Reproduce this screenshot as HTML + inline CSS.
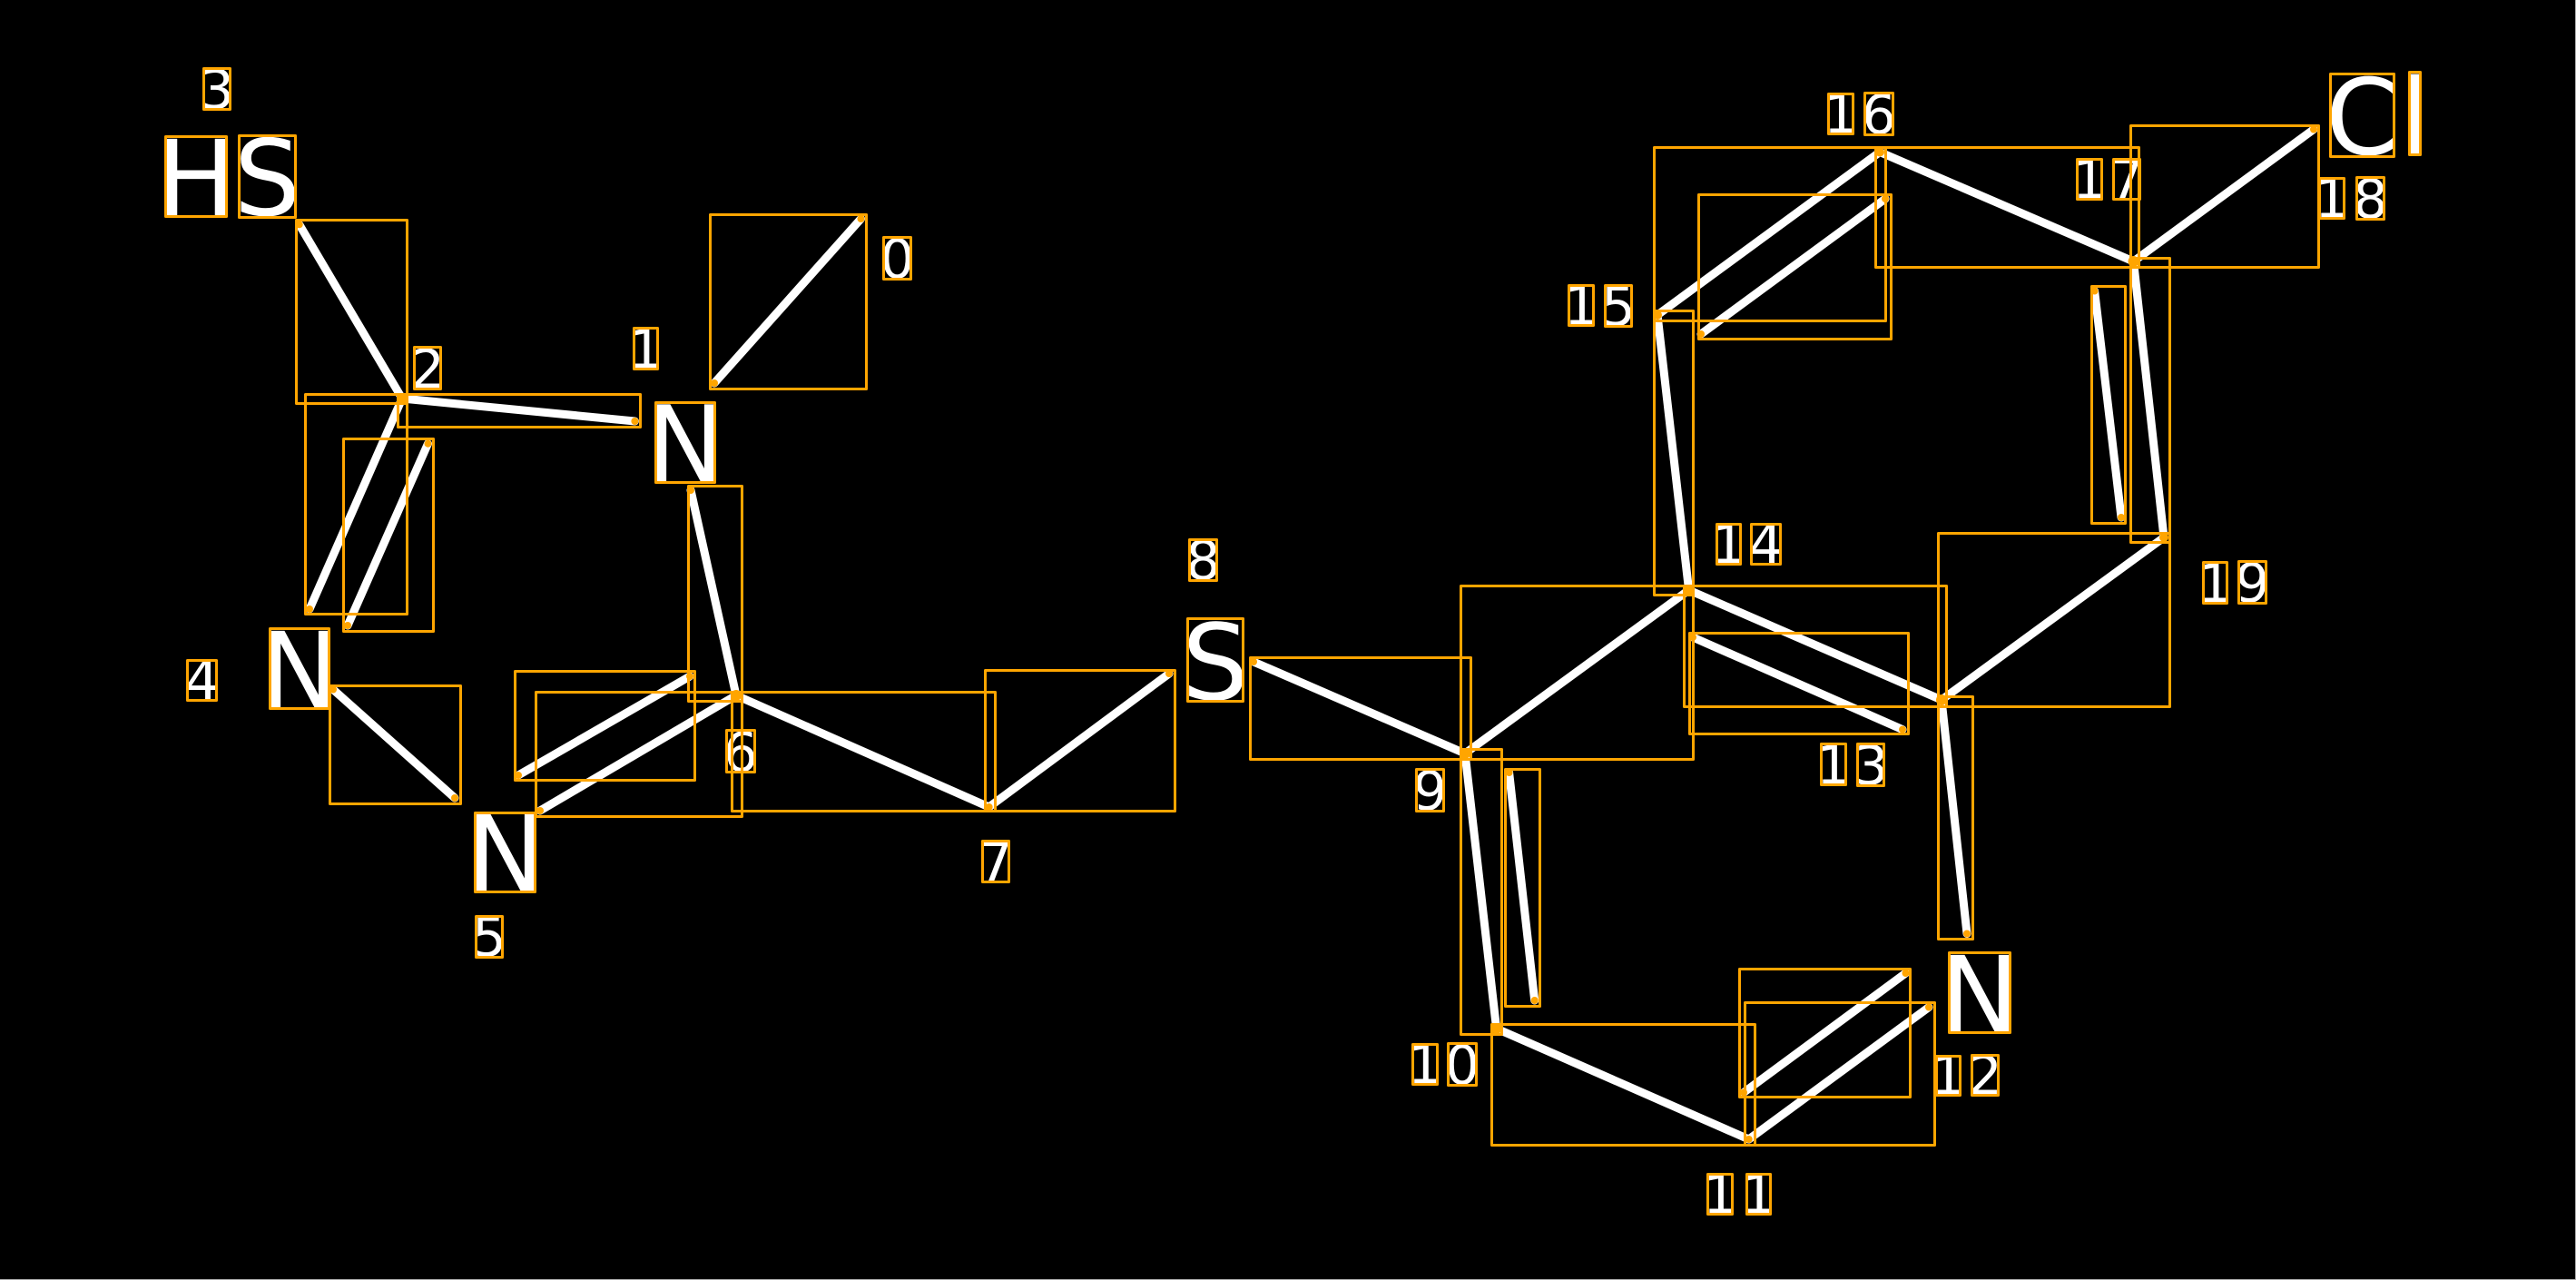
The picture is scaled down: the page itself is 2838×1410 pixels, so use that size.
<!DOCTYPE html>
<html>
<head>
<meta charset="utf-8">
<title>Molecule diagram</title>
<style>
html,body{margin:0;padding:0;background:#000;}
body{width:2838px;height:1410px;overflow:hidden;}
svg{display:block;}
text{font-family:"DejaVu Sans",sans-serif;fill:#fff;text-anchor:middle;}
.b{font-size:116px;}
.s{font-size:60px;}
</style>
</head>
<body>
<svg xmlns="http://www.w3.org/2000/svg" width="2838" height="1410" viewBox="0 0 2838 1410">
<rect width="2838" height="1410" fill="#000"/>
<rect x="0" y="1409" width="2838" height="1" fill="#aaa"/>
<rect x="2837" y="0" width="1" height="1410" fill="#aaa"/>

<g stroke="#fff" stroke-width="9" stroke-linecap="round" fill="none">
<line x1="787" y1="422" x2="948.5" y2="241"/>
<line x1="443" y1="439" x2="699.4" y2="464"/>
<line x1="329.7" y1="247.3" x2="443" y2="439"/>
<line x1="443" y1="439" x2="341" y2="671"/>
<line x1="471.5" y1="488.7" x2="383" y2="689"/>
<line x1="367" y1="759.5" x2="501" y2="879"/>
<line x1="595" y1="893" x2="811" y2="766"/>
<line x1="571" y1="854" x2="760" y2="745"/>
<line x1="761" y1="540" x2="811" y2="766"/>
<line x1="811" y1="766" x2="1089.6" y2="889"/>
<line x1="1089.6" y1="889" x2="1288" y2="742"/>
<line x1="1381" y1="729" x2="1614" y2="830"/>
<line x1="1614" y1="830" x2="1648.6" y2="1133"/>
<line x1="1662.6" y1="851" x2="1690.7" y2="1102"/>
<line x1="1648.6" y1="1133" x2="1926.7" y2="1255"/>
<line x1="1926.7" y1="1255" x2="2125" y2="1109.5"/>
<line x1="1921" y1="1203.5" x2="2099.5" y2="1072"/>
<line x1="2139" y1="771" x2="2167" y2="1028.5"/>
<line x1="1860.6" y1="650" x2="2139" y2="771"/>
<line x1="1865" y1="702" x2="2096" y2="803.6"/>
<line x1="1614" y1="830" x2="1860.6" y2="650"/>
<line x1="1860.6" y1="650" x2="1826" y2="347"/>
<line x1="1826" y1="347" x2="2071" y2="167.5"/>
<line x1="1874" y1="368" x2="2077" y2="219"/>
<line x1="2071" y1="167.5" x2="2350.5" y2="288"/>
<line x1="2350.5" y1="288" x2="2549" y2="142.5"/>
<line x1="2350.5" y1="288" x2="2384" y2="592"/>
<line x1="2307.6" y1="320.5" x2="2337" y2="570"/>
<line x1="2384" y1="592" x2="2139" y2="771"/>
</g>

<text class="b" x="216" y="237.5">H</text>
<text class="b" x="294.5" y="237">S</text>
<text class="b" x="755" y="530">N</text>
<text class="b" x="330" y="779.5">N</text>
<text class="b" x="557" y="981.5">N</text>
<text class="b" x="1339" y="770.5">S</text>
<text class="b" x="2181" y="1136.5">N</text>
<text class="b" x="2602.5" y="170">C</text>
<text class="b" x="2660.7" y="169.5">l</text>

<text class="s" x="988.5" y="306">0</text>
<text class="s" x="711.5" y="405.5">1</text>
<text class="s" x="471" y="427.5">2</text>
<text class="s" x="239" y="119.5">3</text>
<text class="s" x="222.5" y="770.5">4</text>
<text class="s" x="539" y="1053">5</text>
<text class="s" x="816" y="849.5">6</text>
<text class="s" x="1097" y="970.5">7</text>
<text class="s" x="1325.5" y="638">8</text>
<text class="s" x="1575.5" y="892">9</text>
<text class="s" x="1569.8" y="1193.5">1</text>
<text class="s" x="1611" y="1194">0</text>
<text class="s" x="1895" y="1336.5">1</text>
<text class="s" x="1937.5" y="1336.5">1</text>
<text class="s" x="2146.2" y="1205.5">1</text>
<text class="s" x="2186.8" y="1205.5">2</text>
<text class="s" x="2020" y="863.5">1</text>
<text class="s" x="2061.3" y="864">3</text>
<text class="s" x="1904.5" y="620.5">1</text>
<text class="s" x="1945.5" y="620.5">4</text>
<text class="s" x="1742" y="357.5">1</text>
<text class="s" x="1783" y="358.5">5</text>
<text class="s" x="2028" y="146.5">1</text>
<text class="s" x="2070" y="147">6</text>
<text class="s" x="2302" y="218.5">1</text>
<text class="s" x="2343" y="218.5">7</text>
<text class="s" x="2569" y="239.5">1</text>
<text class="s" x="2611.5" y="240">8</text>
<text class="s" x="2440.5" y="663.5">1</text>
<text class="s" x="2481.5" y="663">9</text>

<g stroke="#ffa500" stroke-width="3" stroke-linejoin="round" fill="none">
<rect x="182.5" y="150.5" width="67" height="88"/>
<rect x="263.5" y="149.5" width="62" height="90"/>
<rect x="224.5" y="75.5" width="29" height="45"/>
<rect x="326.5" y="242.5" width="122" height="202"/>
<rect x="336.5" y="434.5" width="112" height="242"/>
<rect x="378.5" y="483.5" width="99" height="212"/>
<rect x="438.5" y="434.5" width="267" height="36"/>
<rect x="782.5" y="236.5" width="172" height="192"/>
<rect x="973.5" y="261.5" width="30" height="46"/>
<rect x="698.5" y="361.5" width="26" height="45"/>
<rect x="456.5" y="382.5" width="29" height="46"/>
<rect x="722.5" y="443.5" width="65" height="88"/>
<rect x="758.5" y="535.5" width="59" height="237"/>
<rect x="297.5" y="692.5" width="65" height="88"/>
<rect x="206.5" y="727.5" width="32" height="44"/>
<rect x="363.5" y="755.5" width="144" height="130"/>
<rect x="523.5" y="895.5" width="66" height="87"/>
<rect x="524.5" y="1009.5" width="29" height="45"/>
<rect x="567.5" y="739.5" width="198" height="120"/>
<rect x="590.5" y="762.5" width="227" height="137"/>
<rect x="800.5" y="804.5" width="31" height="46"/>
<rect x="806.5" y="762.5" width="290" height="131"/>
<rect x="1085.5" y="738.5" width="209" height="155"/>
<rect x="1082.5" y="926.5" width="29" height="45"/>
<rect x="1310.5" y="594.5" width="30" height="45"/>
<rect x="1308.5" y="681.5" width="61" height="91"/>
<rect x="1377.5" y="724.5" width="243" height="112"/>
<rect x="1609.5" y="645.5" width="256" height="191"/>
<rect x="1560.5" y="847.5" width="30" height="46"/>
<rect x="1609.5" y="825.5" width="45" height="314"/>
<rect x="1658.5" y="847.5" width="38" height="261"/>
<rect x="1643.5" y="1128.5" width="290" height="133"/>
<rect x="1556.5" y="1150.5" width="27" height="44"/>
<rect x="1595.5" y="1149.5" width="31" height="46"/>
<rect x="1881.5" y="1293.5" width="27" height="44"/>
<rect x="1924.5" y="1293.5" width="26" height="44"/>
<rect x="1916.5" y="1067.5" width="188" height="141"/>
<rect x="1922.5" y="1104.5" width="209" height="157"/>
<rect x="2133.5" y="1163.5" width="26" height="43"/>
<rect x="2172.5" y="1162.5" width="29" height="44"/>
<rect x="2147.5" y="1049.5" width="67" height="88"/>
<rect x="2135.5" y="767.5" width="38" height="267"/>
<rect x="1855.5" y="645.5" width="289" height="133"/>
<rect x="1861.5" y="697.5" width="241" height="111"/>
<rect x="2006.5" y="819.5" width="27" height="45"/>
<rect x="2046.5" y="819.5" width="29" height="46"/>
<rect x="1891.5" y="577.5" width="26" height="44"/>
<rect x="1929.5" y="577.5" width="32" height="44"/>
<rect x="1822.5" y="342.5" width="43" height="313"/>
<rect x="1728.5" y="314.5" width="27" height="44"/>
<rect x="1768.5" y="314.5" width="29" height="45"/>
<rect x="1822.5" y="162.5" width="255" height="191"/>
<rect x="1871.5" y="214.5" width="212" height="159"/>
<rect x="2014.5" y="103.5" width="27" height="44"/>
<rect x="2054.5" y="102.5" width="31" height="46"/>
<rect x="2066.5" y="162.5" width="290" height="132"/>
<rect x="2288.5" y="175.5" width="27" height="44"/>
<rect x="2328.5" y="175.5" width="29" height="44"/>
<rect x="2347.5" y="138.5" width="207" height="156"/>
<rect x="2555.5" y="196.5" width="27" height="44"/>
<rect x="2596.5" y="195.5" width="30" height="46"/>
<rect x="2567.5" y="81.5" width="70" height="91"/>
<rect x="2654.5" y="79.5" width="12" height="91"/>
<rect x="2304.5" y="315.5" width="37" height="261"/>
<rect x="2347.5" y="284.5" width="43" height="313"/>
<rect x="2135.5" y="587.5" width="255" height="191"/>
<rect x="2427.5" y="619.5" width="26" height="45"/>
<rect x="2466.5" y="618.5" width="30" height="46"/>
</g>

<g fill="#ffa500">
<circle cx="787" cy="422" r="4"/>
<circle cx="948.5" cy="241" r="4"/>
<circle cx="443" cy="439" r="6"/>
<circle cx="699.4" cy="464" r="4"/>
<circle cx="329.7" cy="247.3" r="4"/>
<circle cx="341" cy="671" r="4"/>
<circle cx="471.5" cy="488.7" r="4"/>
<circle cx="383" cy="689" r="4"/>
<circle cx="367" cy="759.5" r="4"/>
<circle cx="501" cy="879" r="4"/>
<circle cx="595" cy="893" r="4"/>
<circle cx="811" cy="766" r="6"/>
<circle cx="571" cy="854" r="4"/>
<circle cx="760" cy="745" r="4"/>
<circle cx="761" cy="540" r="4"/>
<circle cx="1089.6" cy="889" r="4"/>
<circle cx="1288" cy="742" r="4"/>
<circle cx="1381" cy="729" r="4"/>
<circle cx="1614" cy="830" r="6"/>
<circle cx="1648.6" cy="1133" r="6"/>
<circle cx="1662.6" cy="851" r="4"/>
<circle cx="1690.7" cy="1102" r="4"/>
<circle cx="1926.7" cy="1255" r="4"/>
<circle cx="2125" cy="1109.5" r="4"/>
<circle cx="1921" cy="1203.5" r="4"/>
<circle cx="2099.5" cy="1072" r="4"/>
<circle cx="2139" cy="771" r="6"/>
<circle cx="2167" cy="1028.5" r="4"/>
<circle cx="1860.6" cy="650" r="6"/>
<circle cx="1865" cy="702" r="4"/>
<circle cx="2096" cy="803.6" r="4"/>
<circle cx="1826" cy="347" r="5"/>
<circle cx="2071" cy="167.5" r="5"/>
<circle cx="1874" cy="368" r="4"/>
<circle cx="2077" cy="219" r="4"/>
<circle cx="2350.5" cy="288" r="6"/>
<circle cx="2549" cy="142.5" r="4"/>
<circle cx="2384" cy="592" r="5"/>
<circle cx="2307.6" cy="320.5" r="4"/>
<circle cx="2337" cy="570" r="4"/>
</g>
</svg>
</body>
</html>
